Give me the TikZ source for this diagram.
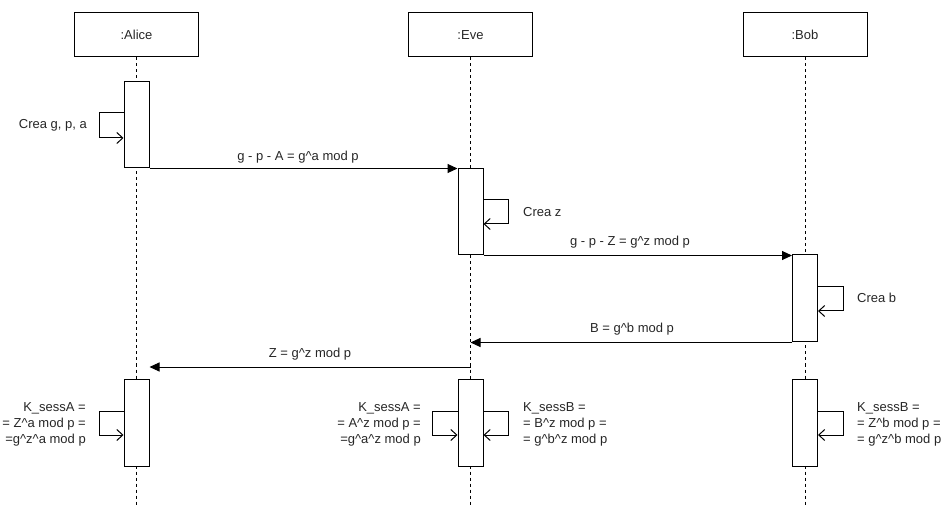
\documentclass[tikz,border=0pt]{standalone}
\usepackage{fontspec}
\setmainfont{Liberation Sans}
\usetikzlibrary{arrows.meta}
\begin{document}
\begin{tikzpicture}[x=1pt,y=-1pt,
 actor/.style={draw, line width=1pt, minimum width=124pt, minimum height=44pt, inner sep=0, font=\fontsize{13}{16}\selectfont, text=black!85},
 act/.style={draw, fill=white, line width=1pt, minimum width=25pt, inner sep=0},
 life/.style={line width=1pt, dash pattern=on 3pt off 3pt},
 msg/.style={line width=1pt, -{Triangle[length=10pt,width=9pt]}},
 selfloop/.style={line width=1pt, -{Straight Barb[length=6pt,width=11pt]}},
 lbl/.style={font=\fontsize{13}{16}\selectfont, inner sep=0, text=black!85}]
\useasboundingbox (0,0) rectangle (946,505);
% actors
\node[actor] (alice) at (136.5,35) {:Alice};
\node[actor] (eve) at (470.5,35) {:Eve};
\node[actor] (bob) at (805,35) {:Bob};
\coordinate (aliceEnd) at (136.5,505);
\coordinate (eveEnd) at (470.5,505);
\coordinate (bobEnd) at (805,505);
\draw[life] (alice.south) -- (aliceEnd);
\draw[life] (eve.south) -- (eveEnd);
\draw[life] (bob.south) -- (bobEnd);
% activations
\node[act, minimum height=86pt] (aA1) at (136.5,125) {};
\node[act, minimum height=86pt] (aE1) at (470.5,212) {};
\node[act, minimum height=87pt] (aB1) at (805,298.5) {};
\node[act, minimum height=87pt] (aA2) at (136.5,422.5) {};
\node[act, minimum height=87pt] (aE2) at (470.5,422.5) {};
\node[act, minimum height=87pt] (aB2) at (805,422.5) {};
% self loops
\draw[selfloop] (aA1.west |- 0,113) -- ++(-24,0) -- ++(0,25) -- (aA1.west |- 0,138);
\draw[selfloop] (aE1.east |- 0,200) -- ++(25,0) -- ++(0,24) -- (aE1.east |- 0,224);
\draw[selfloop] (aB1.east |- 0,287) -- ++(25,0) -- ++(0,24) -- (aB1.east |- 0,311);
\draw[selfloop] (aA2.west |- 0,411) -- ++(-24,0) -- ++(0,24) -- (aA2.west |- 0,435);
\draw[selfloop] (aE2.west |- 0,411) -- ++(-25,0) -- ++(0,24) -- (aE2.west |- 0,435);
\draw[selfloop] (aE2.east |- 0,411) -- ++(25,0) -- ++(0,24) -- (aE2.east |- 0,435);
\draw[selfloop] (aB2.east |- 0,411) -- ++(25,0) -- ++(0,24) -- (aB2.east |- 0,435);
% messages
\draw[msg] (aA1.south east) -- (aA1.south east -| aE1.west);
\draw[msg] (aE1.south east) -- (aE1.south east -| aB1.west);
\draw[msg] (aB1.south west) -- (aB1.south west -| eveEnd);
\draw[msg] (eve.south |- 0,367) -- (aA2.east |- 0,367);
% labels
\node[lbl, anchor=east] (l1) at (87,125) {Crea g, p, a};
\node[lbl, anchor=west] (l2) at (523,212) {Crea z};
\node[lbl, anchor=west] (l3) at (857,298) {Crea b};
\node[lbl, anchor=base] (m1) at (298,161) {g - p - A = g\^{}a mod p};
\node[lbl, anchor=base] (m2) at (630,246) {g - p - Z = g\^{}z mod p};
\node[lbl, anchor=base] (m3) at (632,333) {B = g\^{}b mod p};
\node[lbl, anchor=base] (m4) at (310,358) {Z = g\^{}z mod p};
\node[lbl, anchor=east, align=right] (k1) at (86,424) {K\_sessA =\\= Z\^{}a mod p =\\=g\^{}z\^{}a mod p};
\node[lbl, anchor=east, align=right] (k2) at (421,424) {K\_sessA =\\= A\^{}z mod p =\\=g\^{}a\^{}z mod p};
\node[lbl, anchor=west, align=left] (k3) at (523,424) {K\_sessB =\\= B\^{}z mod p =\\= g\^{}b\^{}z mod p};
\node[lbl, anchor=west, align=left] (k4) at (857,424) {K\_sessB =\\= Z\^{}b mod p =\\= g\^{}z\^{}b mod p};
\end{tikzpicture}
\end{document}
